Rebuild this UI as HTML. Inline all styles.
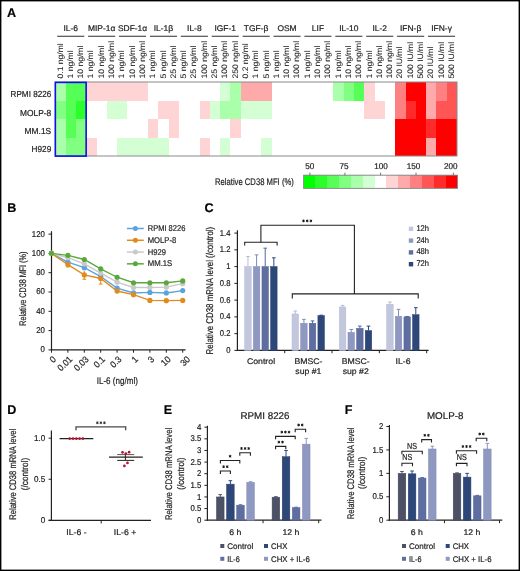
<!DOCTYPE html>
<html><head><meta charset="utf-8"><style>
html,body{margin:0;padding:0;background:#fff;overflow:hidden;}
svg{display:block;will-change:transform;}
text{font-family:"Liberation Sans",sans-serif;text-rendering:geometricPrecision;stroke:#222;stroke-width:0.2px;}
.l{stroke-width:0.05px;}
</style></head><body>
<svg width="520" height="571" viewBox="0 0 520 571" font-family="Liberation Sans, sans-serif" fill="#222">
<rect x="0" y="0" width="520" height="571" fill="#fff"/>
<text x="7.00" y="17.00" font-size="12.6" font-weight="bold" fill="#000">A</text>
<text x="7.30" y="212.20" font-size="12.6" font-weight="bold" fill="#000">B</text>
<text x="204.60" y="212.40" font-size="12.6" font-weight="bold" fill="#000">C</text>
<text x="7.30" y="413.90" font-size="12.6" font-weight="bold" fill="#000">D</text>
<text x="163.80" y="413.90" font-size="12.6" font-weight="bold" fill="#000">E</text>
<text x="344.80" y="413.90" font-size="12.6" font-weight="bold" fill="#000">F</text>
<rect x="55.30" y="82.00" width="10.30" height="18.50" fill="rgb(170,255,170)" shape-rendering="crispEdges"/>
<rect x="65.60" y="82.00" width="20.60" height="18.50" fill="rgb(85,255,85)" shape-rendering="crispEdges"/>
<rect x="86.20" y="82.00" width="61.80" height="18.50" fill="rgb(255,212,212)" shape-rendering="crispEdges"/>
<rect x="220.10" y="82.00" width="10.30" height="18.50" fill="rgb(212,255,212)" shape-rendering="crispEdges"/>
<rect x="230.40" y="82.00" width="10.30" height="18.50" fill="rgb(170,255,170)" shape-rendering="crispEdges"/>
<rect x="240.70" y="82.00" width="30.90" height="18.50" fill="rgb(255,170,170)" shape-rendering="crispEdges"/>
<rect x="333.40" y="82.00" width="10.30" height="18.50" fill="rgb(170,255,170)" shape-rendering="crispEdges"/>
<rect x="343.70" y="82.00" width="10.30" height="18.50" fill="rgb(128,255,128)" shape-rendering="crispEdges"/>
<rect x="354.00" y="82.00" width="10.30" height="18.50" fill="rgb(85,255,85)" shape-rendering="crispEdges"/>
<rect x="364.30" y="82.00" width="10.30" height="18.50" fill="rgb(255,212,212)" shape-rendering="crispEdges"/>
<rect x="395.20" y="82.00" width="10.30" height="18.50" fill="rgb(255,128,128)" shape-rendering="crispEdges"/>
<rect x="405.50" y="82.00" width="20.60" height="18.50" fill="rgb(255,0,0)" shape-rendering="crispEdges"/>
<rect x="426.10" y="82.00" width="10.30" height="18.50" fill="rgb(255,170,170)" shape-rendering="crispEdges"/>
<rect x="436.40" y="82.00" width="10.30" height="18.50" fill="rgb(255,128,128)" shape-rendering="crispEdges"/>
<rect x="446.70" y="82.00" width="10.30" height="18.50" fill="rgb(255,85,85)" shape-rendering="crispEdges"/>
<rect x="55.30" y="100.50" width="10.30" height="18.50" fill="rgb(128,255,128)" shape-rendering="crispEdges"/>
<rect x="65.60" y="100.50" width="10.30" height="18.50" fill="rgb(85,255,85)" shape-rendering="crispEdges"/>
<rect x="75.90" y="100.50" width="10.30" height="18.50" fill="rgb(42,255,42)" shape-rendering="crispEdges"/>
<rect x="106.80" y="100.50" width="20.60" height="18.50" fill="rgb(212,255,212)" shape-rendering="crispEdges"/>
<rect x="158.30" y="100.50" width="20.60" height="18.50" fill="rgb(255,212,212)" shape-rendering="crispEdges"/>
<rect x="199.50" y="100.50" width="10.30" height="18.50" fill="rgb(255,212,212)" shape-rendering="crispEdges"/>
<rect x="209.80" y="100.50" width="10.30" height="18.50" fill="rgb(212,255,212)" shape-rendering="crispEdges"/>
<rect x="220.10" y="100.50" width="20.60" height="18.50" fill="rgb(170,255,170)" shape-rendering="crispEdges"/>
<rect x="240.70" y="100.50" width="30.90" height="18.50" fill="rgb(212,255,212)" shape-rendering="crispEdges"/>
<rect x="364.30" y="100.50" width="20.60" height="18.50" fill="rgb(255,212,212)" shape-rendering="crispEdges"/>
<rect x="395.20" y="100.50" width="10.30" height="18.50" fill="rgb(255,128,128)" shape-rendering="crispEdges"/>
<rect x="405.50" y="100.50" width="10.30" height="18.50" fill="rgb(255,42,42)" shape-rendering="crispEdges"/>
<rect x="415.80" y="100.50" width="10.30" height="18.50" fill="rgb(255,0,0)" shape-rendering="crispEdges"/>
<rect x="426.10" y="100.50" width="10.30" height="18.50" fill="rgb(255,170,170)" shape-rendering="crispEdges"/>
<rect x="436.40" y="100.50" width="20.60" height="18.50" fill="rgb(255,85,85)" shape-rendering="crispEdges"/>
<rect x="55.30" y="119.00" width="10.30" height="18.50" fill="rgb(170,255,170)" shape-rendering="crispEdges"/>
<rect x="65.60" y="119.00" width="10.30" height="18.50" fill="rgb(85,255,85)" shape-rendering="crispEdges"/>
<rect x="75.90" y="119.00" width="10.30" height="18.50" fill="rgb(128,255,128)" shape-rendering="crispEdges"/>
<rect x="148.00" y="119.00" width="10.30" height="18.50" fill="rgb(255,212,212)" shape-rendering="crispEdges"/>
<rect x="168.60" y="119.00" width="10.30" height="18.50" fill="rgb(255,212,212)" shape-rendering="crispEdges"/>
<rect x="230.40" y="119.00" width="10.30" height="18.50" fill="rgb(255,212,212)" shape-rendering="crispEdges"/>
<rect x="395.20" y="119.00" width="30.90" height="18.50" fill="rgb(255,0,0)" shape-rendering="crispEdges"/>
<rect x="426.10" y="119.00" width="10.30" height="18.50" fill="rgb(255,42,42)" shape-rendering="crispEdges"/>
<rect x="436.40" y="119.00" width="20.60" height="18.50" fill="rgb(255,0,0)" shape-rendering="crispEdges"/>
<rect x="55.30" y="137.50" width="10.30" height="18.50" fill="rgb(170,255,170)" shape-rendering="crispEdges"/>
<rect x="65.60" y="137.50" width="20.60" height="18.50" fill="rgb(128,255,128)" shape-rendering="crispEdges"/>
<rect x="86.20" y="137.50" width="10.30" height="18.50" fill="rgb(255,212,212)" shape-rendering="crispEdges"/>
<rect x="117.10" y="137.50" width="51.50" height="18.50" fill="rgb(212,255,212)" shape-rendering="crispEdges"/>
<rect x="199.50" y="137.50" width="10.30" height="18.50" fill="rgb(255,212,212)" shape-rendering="crispEdges"/>
<rect x="220.10" y="137.50" width="10.30" height="18.50" fill="rgb(212,255,212)" shape-rendering="crispEdges"/>
<rect x="261.30" y="137.50" width="10.30" height="18.50" fill="rgb(212,255,212)" shape-rendering="crispEdges"/>
<rect x="395.20" y="137.50" width="30.90" height="18.50" fill="rgb(255,0,0)" shape-rendering="crispEdges"/>
<rect x="426.10" y="137.50" width="10.30" height="18.50" fill="rgb(255,170,170)" shape-rendering="crispEdges"/>
<rect x="436.40" y="137.50" width="20.60" height="18.50" fill="rgb(255,0,0)" shape-rendering="crispEdges"/>
<rect x="55.30" y="82.00" width="401.70" height="74.00" fill="none" stroke="#8a8a8a" stroke-width="1"/>
<rect x="55.35" y="82.40" width="30.80" height="73.70" fill="none" stroke="#1010f0" stroke-width="1.6"/>
<text x="51.20" y="97.20" font-size="8.7" text-anchor="end" textLength="40.60" lengthAdjust="spacingAndGlyphs">RPMI 8226</text>
<text x="51.20" y="115.50" font-size="8.7" text-anchor="end" textLength="31.20" lengthAdjust="spacingAndGlyphs">MOLP-8</text>
<text x="51.20" y="134.00" font-size="8.7" text-anchor="end" textLength="26.60" lengthAdjust="spacingAndGlyphs">MM.1S</text>
<text x="51.20" y="152.30" font-size="8.7" text-anchor="end" textLength="19.60" lengthAdjust="spacingAndGlyphs">H929</text>
<text x="70.75" y="30.70" font-size="8.2" text-anchor="middle" textLength="14.55" lengthAdjust="spacingAndGlyphs">IL-6</text>
<line x1="57.20" y1="36.30" x2="84.30" y2="36.30" stroke="#505050" stroke-width="1.2"/>
<text x="62.55" y="78.50" font-size="8.0" class="l" textLength="35.21" lengthAdjust="spacingAndGlyphs" transform="rotate(-90 62.55 78.50)">0.1 ng/ml</text>
<text x="72.85" y="78.50" font-size="8.0" class="l" textLength="28.07" lengthAdjust="spacingAndGlyphs" transform="rotate(-90 72.85 78.50)">1 ng/ml</text>
<text x="83.15" y="78.50" font-size="8.0" class="l" textLength="32.83" lengthAdjust="spacingAndGlyphs" transform="rotate(-90 83.15 78.50)">10 ng/ml</text>
<text x="101.65" y="30.70" font-size="8.2" text-anchor="middle" textLength="27.41" lengthAdjust="spacingAndGlyphs">MIP-1α</text>
<line x1="88.10" y1="36.30" x2="115.20" y2="36.30" stroke="#505050" stroke-width="1.2"/>
<text x="93.45" y="78.50" font-size="8.0" class="l" textLength="28.07" lengthAdjust="spacingAndGlyphs" transform="rotate(-90 93.45 78.50)">1 ng/ml</text>
<text x="103.75" y="78.50" font-size="8.0" class="l" textLength="32.83" lengthAdjust="spacingAndGlyphs" transform="rotate(-90 103.75 78.50)">10 ng/ml</text>
<text x="114.05" y="78.50" font-size="8.0" class="l" textLength="37.59" lengthAdjust="spacingAndGlyphs" transform="rotate(-90 114.05 78.50)">100 ng/ml</text>
<text x="132.55" y="30.70" font-size="8.2" text-anchor="middle" textLength="29.28" lengthAdjust="spacingAndGlyphs">SDF-1α</text>
<line x1="119.00" y1="36.30" x2="146.10" y2="36.30" stroke="#505050" stroke-width="1.2"/>
<text x="124.35" y="78.50" font-size="8.0" class="l" textLength="28.07" lengthAdjust="spacingAndGlyphs" transform="rotate(-90 124.35 78.50)">1 ng/ml</text>
<text x="134.65" y="78.50" font-size="8.0" class="l" textLength="32.83" lengthAdjust="spacingAndGlyphs" transform="rotate(-90 134.65 78.50)">10 ng/ml</text>
<text x="144.95" y="78.50" font-size="8.0" class="l" textLength="37.59" lengthAdjust="spacingAndGlyphs" transform="rotate(-90 144.95 78.50)">100 ng/ml</text>
<text x="163.45" y="30.70" font-size="8.2" text-anchor="middle" textLength="19.41" lengthAdjust="spacingAndGlyphs">IL-1β</text>
<line x1="149.90" y1="36.30" x2="177.00" y2="36.30" stroke="#505050" stroke-width="1.2"/>
<text x="155.25" y="78.50" font-size="8.0" class="l" textLength="28.07" lengthAdjust="spacingAndGlyphs" transform="rotate(-90 155.25 78.50)">1 ng/ml</text>
<text x="165.55" y="78.50" font-size="8.0" class="l" textLength="28.07" lengthAdjust="spacingAndGlyphs" transform="rotate(-90 165.55 78.50)">5 ng/ml</text>
<text x="175.85" y="78.50" font-size="8.0" class="l" textLength="32.83" lengthAdjust="spacingAndGlyphs" transform="rotate(-90 175.85 78.50)">25 ng/ml</text>
<text x="194.35" y="30.70" font-size="8.2" text-anchor="middle" textLength="14.55" lengthAdjust="spacingAndGlyphs">IL-8</text>
<line x1="180.80" y1="36.30" x2="207.90" y2="36.30" stroke="#505050" stroke-width="1.2"/>
<text x="186.15" y="78.50" font-size="8.0" class="l" textLength="28.07" lengthAdjust="spacingAndGlyphs" transform="rotate(-90 186.15 78.50)">5 ng/ml</text>
<text x="196.45" y="78.50" font-size="8.0" class="l" textLength="32.83" lengthAdjust="spacingAndGlyphs" transform="rotate(-90 196.45 78.50)">25 ng/ml</text>
<text x="206.75" y="78.50" font-size="8.0" class="l" textLength="37.59" lengthAdjust="spacingAndGlyphs" transform="rotate(-90 206.75 78.50)">100 ng/ml</text>
<text x="225.25" y="30.70" font-size="8.2" text-anchor="middle" textLength="21.58" lengthAdjust="spacingAndGlyphs">IGF-1</text>
<line x1="211.70" y1="36.30" x2="238.80" y2="36.30" stroke="#505050" stroke-width="1.2"/>
<text x="217.05" y="78.50" font-size="8.0" class="l" textLength="32.83" lengthAdjust="spacingAndGlyphs" transform="rotate(-90 217.05 78.50)">25 ng/ml</text>
<text x="227.35" y="78.50" font-size="8.0" class="l" textLength="37.59" lengthAdjust="spacingAndGlyphs" transform="rotate(-90 227.35 78.50)">100 ng/ml</text>
<text x="237.65" y="78.50" font-size="8.0" class="l" textLength="37.59" lengthAdjust="spacingAndGlyphs" transform="rotate(-90 237.65 78.50)">250 ng/ml</text>
<text x="256.15" y="30.70" font-size="8.2" text-anchor="middle" textLength="24.56" lengthAdjust="spacingAndGlyphs">TGF-β</text>
<line x1="242.60" y1="36.30" x2="269.70" y2="36.30" stroke="#505050" stroke-width="1.2"/>
<text x="247.95" y="78.50" font-size="8.0" class="l" textLength="35.21" lengthAdjust="spacingAndGlyphs" transform="rotate(-90 247.95 78.50)">0.2 ng/ml</text>
<text x="258.25" y="78.50" font-size="8.0" class="l" textLength="28.07" lengthAdjust="spacingAndGlyphs" transform="rotate(-90 258.25 78.50)">1 ng/ml</text>
<text x="268.55" y="78.50" font-size="8.0" class="l" textLength="28.07" lengthAdjust="spacingAndGlyphs" transform="rotate(-90 268.55 78.50)">5 ng/ml</text>
<text x="287.05" y="30.70" font-size="8.2" text-anchor="middle" textLength="19.24" lengthAdjust="spacingAndGlyphs">OSM</text>
<line x1="273.50" y1="36.30" x2="300.60" y2="36.30" stroke="#505050" stroke-width="1.2"/>
<text x="278.85" y="78.50" font-size="8.0" class="l" textLength="28.07" lengthAdjust="spacingAndGlyphs" transform="rotate(-90 278.85 78.50)">1 ng/ml</text>
<text x="289.15" y="78.50" font-size="8.0" class="l" textLength="32.83" lengthAdjust="spacingAndGlyphs" transform="rotate(-90 289.15 78.50)">10 ng/ml</text>
<text x="299.45" y="78.50" font-size="8.0" class="l" textLength="37.59" lengthAdjust="spacingAndGlyphs" transform="rotate(-90 299.45 78.50)">100 ng/ml</text>
<text x="317.95" y="30.70" font-size="8.2" text-anchor="middle" textLength="12.20" lengthAdjust="spacingAndGlyphs">LIF</text>
<line x1="304.40" y1="36.30" x2="331.50" y2="36.30" stroke="#505050" stroke-width="1.2"/>
<text x="309.75" y="78.50" font-size="8.0" class="l" textLength="28.07" lengthAdjust="spacingAndGlyphs" transform="rotate(-90 309.75 78.50)">1 ng/ml</text>
<text x="320.05" y="78.50" font-size="8.0" class="l" textLength="32.83" lengthAdjust="spacingAndGlyphs" transform="rotate(-90 320.05 78.50)">10 ng/ml</text>
<text x="330.35" y="78.50" font-size="8.0" class="l" textLength="37.59" lengthAdjust="spacingAndGlyphs" transform="rotate(-90 330.35 78.50)">100 ng/ml</text>
<text x="348.85" y="30.70" font-size="8.2" text-anchor="middle" textLength="19.25" lengthAdjust="spacingAndGlyphs">IL-10</text>
<line x1="335.30" y1="36.30" x2="362.40" y2="36.30" stroke="#505050" stroke-width="1.2"/>
<text x="340.65" y="78.50" font-size="8.0" class="l" textLength="28.07" lengthAdjust="spacingAndGlyphs" transform="rotate(-90 340.65 78.50)">1 ng/ml</text>
<text x="350.95" y="78.50" font-size="8.0" class="l" textLength="32.83" lengthAdjust="spacingAndGlyphs" transform="rotate(-90 350.95 78.50)">10 ng/ml</text>
<text x="361.25" y="78.50" font-size="8.0" class="l" textLength="37.59" lengthAdjust="spacingAndGlyphs" transform="rotate(-90 361.25 78.50)">100 ng/ml</text>
<text x="379.75" y="30.70" font-size="8.2" text-anchor="middle" textLength="14.55" lengthAdjust="spacingAndGlyphs">IL-2</text>
<line x1="366.20" y1="36.30" x2="393.30" y2="36.30" stroke="#505050" stroke-width="1.2"/>
<text x="371.55" y="78.50" font-size="8.0" class="l" textLength="28.07" lengthAdjust="spacingAndGlyphs" transform="rotate(-90 371.55 78.50)">1 ng/ml</text>
<text x="381.85" y="78.50" font-size="8.0" class="l" textLength="32.83" lengthAdjust="spacingAndGlyphs" transform="rotate(-90 381.85 78.50)">10 ng/ml</text>
<text x="392.15" y="78.50" font-size="8.0" class="l" textLength="37.59" lengthAdjust="spacingAndGlyphs" transform="rotate(-90 392.15 78.50)">100 ng/ml</text>
<text x="410.65" y="30.70" font-size="8.2" text-anchor="middle" textLength="21.27" lengthAdjust="spacingAndGlyphs">IFN-β</text>
<line x1="397.10" y1="36.30" x2="424.20" y2="36.30" stroke="#505050" stroke-width="1.2"/>
<text x="402.45" y="78.50" font-size="8.0" class="l" textLength="31.87" lengthAdjust="spacingAndGlyphs" transform="rotate(-90 402.45 78.50)">20 IU/ml</text>
<text x="412.75" y="78.50" font-size="8.0" class="l" textLength="36.63" lengthAdjust="spacingAndGlyphs" transform="rotate(-90 412.75 78.50)">100 IU/ml</text>
<text x="423.05" y="78.50" font-size="8.0" class="l" textLength="36.63" lengthAdjust="spacingAndGlyphs" transform="rotate(-90 423.05 78.50)">500 IU/ml</text>
<text x="441.55" y="30.70" font-size="8.2" text-anchor="middle" textLength="20.64" lengthAdjust="spacingAndGlyphs">IFN-γ</text>
<line x1="428.00" y1="36.30" x2="455.10" y2="36.30" stroke="#505050" stroke-width="1.2"/>
<text x="433.35" y="78.50" font-size="8.0" class="l" textLength="31.87" lengthAdjust="spacingAndGlyphs" transform="rotate(-90 433.35 78.50)">20 IU/ml</text>
<text x="443.65" y="78.50" font-size="8.0" class="l" textLength="36.63" lengthAdjust="spacingAndGlyphs" transform="rotate(-90 443.65 78.50)">100 IU/ml</text>
<text x="453.95" y="78.50" font-size="8.0" class="l" textLength="36.63" lengthAdjust="spacingAndGlyphs" transform="rotate(-90 453.95 78.50)">500 IU/ml</text>
<rect x="303.60" y="175.20" width="11.84" height="13.20" fill="rgb(0,255,0)" shape-rendering="crispEdges"/>
<rect x="315.44" y="175.20" width="11.84" height="13.20" fill="rgb(42,255,42)" shape-rendering="crispEdges"/>
<rect x="327.28" y="175.20" width="11.84" height="13.20" fill="rgb(85,255,85)" shape-rendering="crispEdges"/>
<rect x="339.12" y="175.20" width="11.84" height="13.20" fill="rgb(128,255,128)" shape-rendering="crispEdges"/>
<rect x="350.95" y="175.20" width="11.84" height="13.20" fill="rgb(170,255,170)" shape-rendering="crispEdges"/>
<rect x="362.79" y="175.20" width="11.84" height="13.20" fill="rgb(212,255,212)" shape-rendering="crispEdges"/>
<rect x="374.63" y="175.20" width="11.84" height="13.20" fill="#ffffff" shape-rendering="crispEdges"/>
<rect x="386.47" y="175.20" width="11.84" height="13.20" fill="rgb(255,212,212)" shape-rendering="crispEdges"/>
<rect x="398.31" y="175.20" width="11.84" height="13.20" fill="rgb(255,170,170)" shape-rendering="crispEdges"/>
<rect x="410.15" y="175.20" width="11.84" height="13.20" fill="rgb(255,128,128)" shape-rendering="crispEdges"/>
<rect x="421.98" y="175.20" width="11.84" height="13.20" fill="rgb(255,85,85)" shape-rendering="crispEdges"/>
<rect x="433.82" y="175.20" width="11.84" height="13.20" fill="rgb(255,42,42)" shape-rendering="crispEdges"/>
<rect x="445.66" y="175.20" width="11.84" height="13.20" fill="rgb(255,0,0)" shape-rendering="crispEdges"/>
<rect x="303.60" y="175.20" width="153.90" height="13.20" fill="none" stroke="#8a8a8a" stroke-width="1"/>
<line x1="309.90" y1="172.60" x2="309.90" y2="175.20" stroke="#555" stroke-width="0.8"/>
<text x="309.80" y="169.20" font-size="8.4" text-anchor="middle" textLength="9.06" lengthAdjust="spacingAndGlyphs">50</text>
<line x1="344.90" y1="172.60" x2="344.90" y2="175.20" stroke="#555" stroke-width="0.8"/>
<text x="344.10" y="169.20" font-size="8.4" text-anchor="middle" textLength="9.06" lengthAdjust="spacingAndGlyphs">75</text>
<line x1="380.60" y1="172.60" x2="380.60" y2="175.20" stroke="#555" stroke-width="0.8"/>
<text x="381.00" y="169.20" font-size="8.4" text-anchor="middle" textLength="13.59" lengthAdjust="spacingAndGlyphs">100</text>
<line x1="416.00" y1="172.60" x2="416.00" y2="175.20" stroke="#555" stroke-width="0.8"/>
<text x="413.60" y="169.20" font-size="8.4" text-anchor="middle" textLength="13.59" lengthAdjust="spacingAndGlyphs">150</text>
<line x1="453.40" y1="172.60" x2="453.40" y2="175.20" stroke="#555" stroke-width="0.8"/>
<text x="450.70" y="169.20" font-size="8.4" text-anchor="middle" textLength="13.59" lengthAdjust="spacingAndGlyphs">200</text>
<text x="215.00" y="185.00" font-size="9.6" textLength="78.80" lengthAdjust="spacingAndGlyphs">Relative CD38 MFI (%)</text>
<line x1="51.50" y1="231.20" x2="51.50" y2="350.40" stroke="#222" stroke-width="1.2"/>
<line x1="50.90" y1="349.90" x2="185.60" y2="349.90" stroke="#222" stroke-width="1.2"/>
<line x1="48.50" y1="349.90" x2="51.50" y2="349.90" stroke="#222" stroke-width="1"/>
<text x="44.90" y="352.35" font-size="8.5" text-anchor="end" textLength="4.35" lengthAdjust="spacingAndGlyphs">0</text>
<line x1="48.50" y1="330.60" x2="51.50" y2="330.60" stroke="#222" stroke-width="1"/>
<text x="44.90" y="333.05" font-size="8.5" text-anchor="end" textLength="8.70" lengthAdjust="spacingAndGlyphs">20</text>
<line x1="48.50" y1="311.30" x2="51.50" y2="311.30" stroke="#222" stroke-width="1"/>
<text x="44.90" y="313.75" font-size="8.5" text-anchor="end" textLength="8.70" lengthAdjust="spacingAndGlyphs">40</text>
<line x1="48.50" y1="292.00" x2="51.50" y2="292.00" stroke="#222" stroke-width="1"/>
<text x="44.90" y="294.45" font-size="8.5" text-anchor="end" textLength="8.70" lengthAdjust="spacingAndGlyphs">60</text>
<line x1="48.50" y1="272.70" x2="51.50" y2="272.70" stroke="#222" stroke-width="1"/>
<text x="44.90" y="275.15" font-size="8.5" text-anchor="end" textLength="8.70" lengthAdjust="spacingAndGlyphs">80</text>
<line x1="48.50" y1="253.40" x2="51.50" y2="253.40" stroke="#222" stroke-width="1"/>
<text x="44.90" y="255.85" font-size="8.5" text-anchor="end" textLength="13.05" lengthAdjust="spacingAndGlyphs">100</text>
<line x1="48.50" y1="234.10" x2="51.50" y2="234.10" stroke="#222" stroke-width="1"/>
<text x="44.90" y="236.55" font-size="8.5" text-anchor="end" textLength="13.05" lengthAdjust="spacingAndGlyphs">120</text>
<line x1="51.50" y1="349.90" x2="51.50" y2="352.70" stroke="#222" stroke-width="1"/>
<text x="56.50" y="359.80" font-size="9.0" text-anchor="end" textLength="4.75" lengthAdjust="spacingAndGlyphs" transform="rotate(-45 56.50 359.80)">0</text>
<line x1="67.90" y1="349.90" x2="67.90" y2="352.70" stroke="#222" stroke-width="1"/>
<text x="72.90" y="359.80" font-size="9.0" text-anchor="end" textLength="16.64" lengthAdjust="spacingAndGlyphs" transform="rotate(-45 72.90 359.80)">0.01</text>
<line x1="84.30" y1="349.90" x2="84.30" y2="352.70" stroke="#222" stroke-width="1"/>
<text x="89.30" y="359.80" font-size="9.0" text-anchor="end" textLength="16.64" lengthAdjust="spacingAndGlyphs" transform="rotate(-45 89.30 359.80)">0.03</text>
<line x1="100.70" y1="349.90" x2="100.70" y2="352.70" stroke="#222" stroke-width="1"/>
<text x="105.70" y="359.80" font-size="9.0" text-anchor="end" textLength="11.88" lengthAdjust="spacingAndGlyphs" transform="rotate(-45 105.70 359.80)">0.1</text>
<line x1="117.10" y1="349.90" x2="117.10" y2="352.70" stroke="#222" stroke-width="1"/>
<text x="122.10" y="359.80" font-size="9.0" text-anchor="end" textLength="11.88" lengthAdjust="spacingAndGlyphs" transform="rotate(-45 122.10 359.80)">0.3</text>
<line x1="133.50" y1="349.90" x2="133.50" y2="352.70" stroke="#222" stroke-width="1"/>
<text x="138.50" y="359.80" font-size="9.0" text-anchor="end" textLength="4.75" lengthAdjust="spacingAndGlyphs" transform="rotate(-45 138.50 359.80)">1</text>
<line x1="149.90" y1="349.90" x2="149.90" y2="352.70" stroke="#222" stroke-width="1"/>
<text x="154.90" y="359.80" font-size="9.0" text-anchor="end" textLength="4.75" lengthAdjust="spacingAndGlyphs" transform="rotate(-45 154.90 359.80)">3</text>
<line x1="166.30" y1="349.90" x2="166.30" y2="352.70" stroke="#222" stroke-width="1"/>
<text x="171.30" y="359.80" font-size="9.0" text-anchor="end" textLength="9.51" lengthAdjust="spacingAndGlyphs" transform="rotate(-45 171.30 359.80)">10</text>
<line x1="182.70" y1="349.90" x2="182.70" y2="352.70" stroke="#222" stroke-width="1"/>
<text x="190.70" y="359.80" font-size="9.0" text-anchor="end" textLength="9.51" lengthAdjust="spacingAndGlyphs" transform="rotate(-45 190.70 359.80)">30</text>
<text x="117.30" y="384.40" font-size="9.6" text-anchor="middle" textLength="41.20" lengthAdjust="spacingAndGlyphs">IL-6 (ng/ml)</text>
<text x="25.60" y="288.70" font-size="9.6" text-anchor="middle" textLength="74.00" lengthAdjust="spacingAndGlyphs" transform="rotate(-90 25.60 288.70)">Relative CD38 MFI (%)</text>
<line x1="67.90" y1="262.57" x2="67.90" y2="266.91" stroke="#e08b1b" stroke-width="1"/>
<line x1="66.10" y1="266.91" x2="69.70" y2="266.91" stroke="#e08b1b" stroke-width="1"/>
<line x1="84.30" y1="270.77" x2="84.30" y2="279.26" stroke="#e08b1b" stroke-width="1"/>
<line x1="82.50" y1="279.26" x2="86.10" y2="279.26" stroke="#e08b1b" stroke-width="1"/>
<line x1="100.70" y1="273.66" x2="100.70" y2="284.09" stroke="#e08b1b" stroke-width="1"/>
<line x1="98.90" y1="284.09" x2="102.50" y2="284.09" stroke="#e08b1b" stroke-width="1"/>
<polyline points="51.50,253.40 67.90,262.08 84.30,267.68 100.70,276.56 117.10,288.14 133.50,292.96 149.90,292.39 166.30,292.96 182.70,290.55" stroke="#5ba3dd" stroke-width="1.35" fill="none"/>
<polyline points="51.50,253.40 67.90,264.59 84.30,274.92 100.70,278.49 117.10,291.03 133.50,294.70 149.90,300.40 166.30,300.69 182.70,300.40" stroke="#e08b1b" stroke-width="1.35" fill="none"/>
<polyline points="51.50,253.40 67.90,257.74 84.30,263.82 100.70,273.09 117.10,282.16 133.50,287.46 149.90,287.46 166.30,287.17 182.70,283.70" stroke="#c9c9cc" stroke-width="1.35" fill="none"/>
<polyline points="51.50,253.40 67.90,255.33 84.30,259.48 100.70,268.84 117.10,277.24 133.50,282.74 149.90,282.74 166.30,282.74 182.70,280.90" stroke="#5aa83b" stroke-width="1.35" fill="none"/>
<circle cx="51.50" cy="253.40" r="2.6" fill="#5ba3dd"/>
<circle cx="67.90" cy="262.08" r="2.6" fill="#5ba3dd"/>
<circle cx="84.30" cy="267.68" r="2.6" fill="#5ba3dd"/>
<circle cx="100.70" cy="276.56" r="2.6" fill="#5ba3dd"/>
<circle cx="117.10" cy="288.14" r="2.6" fill="#5ba3dd"/>
<circle cx="133.50" cy="292.96" r="2.6" fill="#5ba3dd"/>
<circle cx="149.90" cy="292.39" r="2.6" fill="#5ba3dd"/>
<circle cx="166.30" cy="292.96" r="2.6" fill="#5ba3dd"/>
<circle cx="182.70" cy="290.55" r="2.6" fill="#5ba3dd"/>
<circle cx="51.50" cy="253.40" r="2.6" fill="#e08b1b"/>
<circle cx="67.90" cy="264.59" r="2.6" fill="#e08b1b"/>
<circle cx="84.30" cy="274.92" r="2.6" fill="#e08b1b"/>
<circle cx="100.70" cy="278.49" r="2.6" fill="#e08b1b"/>
<circle cx="117.10" cy="291.03" r="2.6" fill="#e08b1b"/>
<circle cx="133.50" cy="294.70" r="2.6" fill="#e08b1b"/>
<circle cx="149.90" cy="300.40" r="2.6" fill="#e08b1b"/>
<circle cx="166.30" cy="300.69" r="2.6" fill="#e08b1b"/>
<circle cx="182.70" cy="300.40" r="2.6" fill="#e08b1b"/>
<circle cx="51.50" cy="253.40" r="2.6" fill="#c9c9cc"/>
<circle cx="67.90" cy="257.74" r="2.6" fill="#c9c9cc"/>
<circle cx="84.30" cy="263.82" r="2.6" fill="#c9c9cc"/>
<circle cx="100.70" cy="273.09" r="2.6" fill="#c9c9cc"/>
<circle cx="117.10" cy="282.16" r="2.6" fill="#c9c9cc"/>
<circle cx="133.50" cy="287.46" r="2.6" fill="#c9c9cc"/>
<circle cx="149.90" cy="287.46" r="2.6" fill="#c9c9cc"/>
<circle cx="166.30" cy="287.17" r="2.6" fill="#c9c9cc"/>
<circle cx="182.70" cy="283.70" r="2.6" fill="#c9c9cc"/>
<circle cx="51.50" cy="253.40" r="2.6" fill="#5aa83b"/>
<circle cx="67.90" cy="255.33" r="2.6" fill="#5aa83b"/>
<circle cx="84.30" cy="259.48" r="2.6" fill="#5aa83b"/>
<circle cx="100.70" cy="268.84" r="2.6" fill="#5aa83b"/>
<circle cx="117.10" cy="277.24" r="2.6" fill="#5aa83b"/>
<circle cx="133.50" cy="282.74" r="2.6" fill="#5aa83b"/>
<circle cx="149.90" cy="282.74" r="2.6" fill="#5aa83b"/>
<circle cx="166.30" cy="282.74" r="2.6" fill="#5aa83b"/>
<circle cx="182.70" cy="280.90" r="2.6" fill="#5aa83b"/>
<line x1="126.90" y1="228.50" x2="143.80" y2="228.50" stroke="#5ba3dd" stroke-width="1.5"/>
<circle cx="135.4" cy="228.50" r="2.5" fill="#5ba3dd"/>
<text x="147.70" y="231.10" font-size="8.4" textLength="37.70" lengthAdjust="spacingAndGlyphs">RPMI 8226</text>
<line x1="126.90" y1="240.28" x2="143.80" y2="240.28" stroke="#e08b1b" stroke-width="1.5"/>
<circle cx="135.4" cy="240.28" r="2.5" fill="#e08b1b"/>
<text x="147.70" y="242.88" font-size="8.4" textLength="28.50" lengthAdjust="spacingAndGlyphs">MOLP-8</text>
<line x1="126.90" y1="252.06" x2="143.80" y2="252.06" stroke="#c9c9cc" stroke-width="1.5"/>
<circle cx="135.4" cy="252.06" r="2.5" fill="#c9c9cc"/>
<text x="147.70" y="254.66" font-size="8.4" textLength="18.20" lengthAdjust="spacingAndGlyphs">H929</text>
<line x1="126.90" y1="263.84" x2="143.80" y2="263.84" stroke="#5aa83b" stroke-width="1.5"/>
<circle cx="135.4" cy="263.84" r="2.5" fill="#5aa83b"/>
<text x="147.70" y="266.44" font-size="8.4" textLength="24.60" lengthAdjust="spacingAndGlyphs">MM.1S</text>
<line x1="237.40" y1="230.20" x2="237.40" y2="350.90" stroke="#222" stroke-width="1.2"/>
<line x1="236.80" y1="350.40" x2="428.60" y2="350.40" stroke="#222" stroke-width="1.2"/>
<line x1="234.40" y1="350.40" x2="237.40" y2="350.40" stroke="#222" stroke-width="1"/>
<text x="230.40" y="353.00" font-size="8.5" text-anchor="end" textLength="4.25" lengthAdjust="spacingAndGlyphs">0</text>
<line x1="234.40" y1="333.64" x2="237.40" y2="333.64" stroke="#222" stroke-width="1"/>
<text x="230.40" y="336.24" font-size="8.5" text-anchor="end" textLength="10.63" lengthAdjust="spacingAndGlyphs">0.2</text>
<line x1="234.40" y1="316.88" x2="237.40" y2="316.88" stroke="#222" stroke-width="1"/>
<text x="230.40" y="319.48" font-size="8.5" text-anchor="end" textLength="10.63" lengthAdjust="spacingAndGlyphs">0.4</text>
<line x1="234.40" y1="300.12" x2="237.40" y2="300.12" stroke="#222" stroke-width="1"/>
<text x="230.40" y="302.72" font-size="8.5" text-anchor="end" textLength="10.63" lengthAdjust="spacingAndGlyphs">0.6</text>
<line x1="234.40" y1="283.36" x2="237.40" y2="283.36" stroke="#222" stroke-width="1"/>
<text x="230.40" y="285.96" font-size="8.5" text-anchor="end" textLength="10.63" lengthAdjust="spacingAndGlyphs">0.8</text>
<line x1="234.40" y1="266.60" x2="237.40" y2="266.60" stroke="#222" stroke-width="1"/>
<text x="230.40" y="269.20" font-size="8.5" text-anchor="end" textLength="4.25" lengthAdjust="spacingAndGlyphs">1</text>
<line x1="234.40" y1="249.84" x2="237.40" y2="249.84" stroke="#222" stroke-width="1"/>
<text x="230.40" y="252.44" font-size="8.5" text-anchor="end" textLength="10.63" lengthAdjust="spacingAndGlyphs">1.2</text>
<line x1="234.40" y1="233.08" x2="237.40" y2="233.08" stroke="#222" stroke-width="1"/>
<text x="230.40" y="235.68" font-size="8.5" text-anchor="end" textLength="10.63" lengthAdjust="spacingAndGlyphs">1.4</text>
<line x1="284.72" y1="350.40" x2="284.72" y2="353.20" stroke="#222" stroke-width="1"/>
<line x1="332.04" y1="350.40" x2="332.04" y2="353.20" stroke="#222" stroke-width="1"/>
<line x1="379.36" y1="350.40" x2="379.36" y2="353.20" stroke="#222" stroke-width="1"/>
<line x1="426.68" y1="350.40" x2="426.68" y2="353.20" stroke="#222" stroke-width="1"/>
<line x1="247.96" y1="256.54" x2="247.96" y2="266.60" stroke="#b5bbd6" stroke-width="1"/>
<line x1="246.16" y1="256.54" x2="249.76" y2="256.54" stroke="#b5bbd6" stroke-width="1"/>
<rect x="244.71" y="266.60" width="6.50" height="83.80" fill="#c2c7dd" stroke="#b3b9d2" stroke-width="0.5"/>
<line x1="256.59" y1="254.87" x2="256.59" y2="266.60" stroke="#7f8ab7" stroke-width="1"/>
<line x1="254.79" y1="254.87" x2="258.39" y2="254.87" stroke="#7f8ab7" stroke-width="1"/>
<rect x="253.34" y="266.60" width="6.50" height="83.80" fill="#8e98c0" stroke="#808bb5" stroke-width="0.5"/>
<line x1="265.22" y1="248.16" x2="265.22" y2="266.60" stroke="#55669a" stroke-width="1"/>
<line x1="263.42" y1="248.16" x2="267.02" y2="248.16" stroke="#55669a" stroke-width="1"/>
<rect x="261.97" y="266.60" width="6.50" height="83.80" fill="#5e6ea0" stroke="#536293" stroke-width="0.5"/>
<line x1="273.85" y1="257.80" x2="273.85" y2="266.60" stroke="#2d4779" stroke-width="1"/>
<line x1="272.05" y1="257.80" x2="275.65" y2="257.80" stroke="#2d4779" stroke-width="1"/>
<rect x="270.60" y="266.60" width="6.50" height="83.80" fill="#2d4779" stroke="#253d6c" stroke-width="0.5"/>
<line x1="295.28" y1="311.01" x2="295.28" y2="313.95" stroke="#b5bbd6" stroke-width="1"/>
<line x1="293.48" y1="311.01" x2="297.08" y2="311.01" stroke="#b5bbd6" stroke-width="1"/>
<rect x="292.03" y="313.95" width="6.50" height="36.45" fill="#c2c7dd" stroke="#b3b9d2" stroke-width="0.5"/>
<line x1="303.91" y1="319.39" x2="303.91" y2="323.25" stroke="#7f8ab7" stroke-width="1"/>
<line x1="302.11" y1="319.39" x2="305.71" y2="319.39" stroke="#7f8ab7" stroke-width="1"/>
<rect x="300.66" y="323.25" width="6.50" height="27.15" fill="#8e98c0" stroke="#808bb5" stroke-width="0.5"/>
<line x1="312.54" y1="320.90" x2="312.54" y2="323.25" stroke="#55669a" stroke-width="1"/>
<line x1="310.74" y1="320.90" x2="314.34" y2="320.90" stroke="#55669a" stroke-width="1"/>
<rect x="309.29" y="323.25" width="6.50" height="27.15" fill="#5e6ea0" stroke="#536293" stroke-width="0.5"/>
<line x1="321.17" y1="315.20" x2="321.17" y2="315.62" stroke="#2d4779" stroke-width="1"/>
<line x1="319.37" y1="315.20" x2="322.97" y2="315.20" stroke="#2d4779" stroke-width="1"/>
<rect x="317.92" y="315.62" width="6.50" height="34.78" fill="#2d4779" stroke="#253d6c" stroke-width="0.5"/>
<line x1="342.60" y1="305.40" x2="342.60" y2="306.99" stroke="#b5bbd6" stroke-width="1"/>
<line x1="340.80" y1="305.40" x2="344.40" y2="305.40" stroke="#b5bbd6" stroke-width="1"/>
<rect x="339.35" y="306.99" width="6.50" height="43.41" fill="#c2c7dd" stroke="#b3b9d2" stroke-width="0.5"/>
<line x1="351.23" y1="329.45" x2="351.23" y2="332.38" stroke="#7f8ab7" stroke-width="1"/>
<line x1="349.43" y1="329.45" x2="353.03" y2="329.45" stroke="#7f8ab7" stroke-width="1"/>
<rect x="347.98" y="332.38" width="6.50" height="18.02" fill="#8e98c0" stroke="#808bb5" stroke-width="0.5"/>
<line x1="359.86" y1="326.10" x2="359.86" y2="328.28" stroke="#55669a" stroke-width="1"/>
<line x1="358.06" y1="326.10" x2="361.66" y2="326.10" stroke="#55669a" stroke-width="1"/>
<rect x="356.61" y="328.28" width="6.50" height="22.12" fill="#5e6ea0" stroke="#536293" stroke-width="0.5"/>
<line x1="368.49" y1="326.10" x2="368.49" y2="330.54" stroke="#2d4779" stroke-width="1"/>
<line x1="366.69" y1="326.10" x2="370.29" y2="326.10" stroke="#2d4779" stroke-width="1"/>
<rect x="365.24" y="330.54" width="6.50" height="19.86" fill="#2d4779" stroke="#253d6c" stroke-width="0.5"/>
<line x1="389.92" y1="302.05" x2="389.92" y2="304.31" stroke="#b5bbd6" stroke-width="1"/>
<line x1="388.12" y1="302.05" x2="391.72" y2="302.05" stroke="#b5bbd6" stroke-width="1"/>
<rect x="386.67" y="304.31" width="6.50" height="46.09" fill="#c2c7dd" stroke="#b3b9d2" stroke-width="0.5"/>
<line x1="398.55" y1="309.34" x2="398.55" y2="316.29" stroke="#7f8ab7" stroke-width="1"/>
<line x1="396.75" y1="309.34" x2="400.35" y2="309.34" stroke="#7f8ab7" stroke-width="1"/>
<rect x="395.30" y="316.29" width="6.50" height="34.11" fill="#8e98c0" stroke="#808bb5" stroke-width="0.5"/>
<line x1="407.18" y1="316.46" x2="407.18" y2="316.88" stroke="#55669a" stroke-width="1"/>
<line x1="405.38" y1="316.46" x2="408.98" y2="316.46" stroke="#55669a" stroke-width="1"/>
<rect x="403.93" y="316.88" width="6.50" height="33.52" fill="#5e6ea0" stroke="#536293" stroke-width="0.5"/>
<line x1="415.81" y1="307.66" x2="415.81" y2="314.70" stroke="#2d4779" stroke-width="1"/>
<line x1="414.01" y1="307.66" x2="417.61" y2="307.66" stroke="#2d4779" stroke-width="1"/>
<rect x="412.56" y="314.70" width="6.50" height="35.70" fill="#2d4779" stroke="#253d6c" stroke-width="0.5"/>
<text x="261.00" y="363.60" font-size="8.2" text-anchor="middle" textLength="28.20" lengthAdjust="spacingAndGlyphs">Control</text>
<text x="308.38" y="363.60" font-size="8.2" text-anchor="middle" textLength="28.01" lengthAdjust="spacingAndGlyphs">BMSC-</text>
<text x="308.38" y="373.60" font-size="8.2" text-anchor="middle" textLength="26.10" lengthAdjust="spacingAndGlyphs">sup #1</text>
<text x="355.70" y="363.60" font-size="8.2" text-anchor="middle" textLength="28.01" lengthAdjust="spacingAndGlyphs">BMSC-</text>
<text x="355.70" y="373.60" font-size="8.2" text-anchor="middle" textLength="26.10" lengthAdjust="spacingAndGlyphs">sup #2</text>
<text x="403.02" y="363.60" font-size="8.2" text-anchor="middle" textLength="14.98" lengthAdjust="spacingAndGlyphs">IL-6</text>
<text x="213.00" y="290.60" font-size="9.8" text-anchor="middle" textLength="127.70" lengthAdjust="spacingAndGlyphs" transform="rotate(-90 213.00 290.60)">Relative CD38 mRNA level (/control)</text>
<polyline points="244.70,245.40 244.70,242.30 277.10,242.30 277.10,245.40" stroke="#222" stroke-width="1.1" fill="none"/>
<polyline points="260.90,242.30 260.90,225.30 354.40,225.30 354.40,293.90" stroke="#222" stroke-width="1.1" fill="none"/>
<polyline points="292.30,298.40 292.30,293.90 418.20,293.90 418.20,298.40" stroke="#222" stroke-width="1.1" fill="none"/>
<path d="M303.50,219.55L303.50,222.25M302.33,220.22L304.67,221.58M302.33,221.58L304.67,220.22" stroke="#1a1a1a" stroke-width="1.0" fill="none"/>
<path d="M307.20,219.55L307.20,222.25M306.03,220.22L308.37,221.58M306.03,221.58L308.37,220.22" stroke="#1a1a1a" stroke-width="1.0" fill="none"/>
<path d="M310.90,219.55L310.90,222.25M309.73,220.22L312.07,221.58M309.73,221.58L312.07,220.22" stroke="#1a1a1a" stroke-width="1.0" fill="none"/>
<rect x="408.80" y="226.60" width="4.40" height="4.40" fill="#c2c7dd"/>
<text x="416.40" y="230.80" font-size="8.3" textLength="12.60" lengthAdjust="spacingAndGlyphs">12h</text>
<rect x="408.80" y="238.40" width="4.40" height="4.40" fill="#8e98c0"/>
<text x="416.40" y="242.60" font-size="8.3" textLength="12.60" lengthAdjust="spacingAndGlyphs">24h</text>
<rect x="408.80" y="250.20" width="4.40" height="4.40" fill="#5e6ea0"/>
<text x="416.40" y="254.40" font-size="8.3" textLength="12.60" lengthAdjust="spacingAndGlyphs">48h</text>
<rect x="408.80" y="262.00" width="4.40" height="4.40" fill="#2d4779"/>
<text x="416.40" y="266.20" font-size="8.3" textLength="12.60" lengthAdjust="spacingAndGlyphs">72h</text>
<line x1="51.40" y1="430.50" x2="51.40" y2="520.90" stroke="#222" stroke-width="1.2"/>
<line x1="48.60" y1="520.30" x2="151.00" y2="520.30" stroke="#222" stroke-width="1.2"/>
<line x1="101.20" y1="520.30" x2="101.20" y2="523.50" stroke="#222" stroke-width="1"/>
<line x1="48.60" y1="438.20" x2="51.40" y2="438.20" stroke="#222" stroke-width="1"/>
<text x="45.30" y="440.80" font-size="8.5" text-anchor="end" textLength="11.22" lengthAdjust="spacingAndGlyphs">1.0</text>
<line x1="48.60" y1="479.25" x2="51.40" y2="479.25" stroke="#222" stroke-width="1"/>
<text x="45.30" y="481.85" font-size="8.5" text-anchor="end" textLength="11.22" lengthAdjust="spacingAndGlyphs">0.5</text>
<line x1="48.60" y1="520.30" x2="51.40" y2="520.30" stroke="#222" stroke-width="1"/>
<text x="45.30" y="522.90" font-size="8.5" text-anchor="end" textLength="4.49" lengthAdjust="spacingAndGlyphs">0</text>
<line x1="59.60" y1="438.60" x2="93.30" y2="438.60" stroke="#222" stroke-width="1.3"/>
<circle cx="69.70" cy="438.6" r="1.35" fill="#b3112c"/>
<circle cx="73.00" cy="438.6" r="1.35" fill="#b3112c"/>
<circle cx="76.30" cy="438.6" r="1.35" fill="#b3112c"/>
<circle cx="79.60" cy="438.6" r="1.35" fill="#b3112c"/>
<circle cx="82.90" cy="438.6" r="1.35" fill="#b3112c"/>
<line x1="109.00" y1="457.20" x2="142.80" y2="457.20" stroke="#222" stroke-width="1.3"/>
<line x1="125.40" y1="454.60" x2="125.40" y2="460.40" stroke="#222" stroke-width="1"/>
<line x1="117.20" y1="454.60" x2="134.20" y2="454.60" stroke="#555" stroke-width="1"/>
<line x1="117.20" y1="460.40" x2="134.20" y2="460.40" stroke="#222" stroke-width="1"/>
<circle cx="122.50" cy="452.30" r="1.35" fill="#b3112c"/>
<circle cx="125.80" cy="453.60" r="1.35" fill="#b3112c"/>
<circle cx="129.10" cy="452.20" r="1.35" fill="#b3112c"/>
<circle cx="127.50" cy="462.90" r="1.35" fill="#b3112c"/>
<circle cx="124.40" cy="465.90" r="1.35" fill="#b3112c"/>
<polyline points="76.00,430.30 76.00,426.80 125.70,426.80 125.70,430.30" stroke="#4a4a4a" stroke-width="1.3" fill="none"/>
<path d="M97.35,421.45L97.35,424.15M96.18,422.12L98.52,423.48M96.18,423.48L98.52,422.12" stroke="#3a3a3a" stroke-width="1.0" fill="none"/>
<path d="M100.90,421.45L100.90,424.15M99.73,422.12L102.07,423.48M99.73,423.48L102.07,422.12" stroke="#3a3a3a" stroke-width="1.0" fill="none"/>
<path d="M104.45,421.45L104.45,424.15M103.28,422.12L105.62,423.48M103.28,423.48L105.62,422.12" stroke="#3a3a3a" stroke-width="1.0" fill="none"/>
<text x="76.50" y="534.60" font-size="8.2" text-anchor="middle" textLength="20.28" lengthAdjust="spacingAndGlyphs">IL-6 -</text>
<text x="125.00" y="534.60" font-size="8.2" text-anchor="middle" textLength="22.47" lengthAdjust="spacingAndGlyphs">IL-6 +</text>
<text x="15.60" y="474.30" font-size="9.6" text-anchor="middle" textLength="91.00" lengthAdjust="spacingAndGlyphs" transform="rotate(-90 15.60 474.30)">Relative CD38 mRNA level</text>
<text x="27.80" y="474.00" font-size="9.6" text-anchor="middle" textLength="32.60" lengthAdjust="spacingAndGlyphs" transform="rotate(-90 27.80 474.00)">(/control)</text>
<line x1="207.40" y1="425.80" x2="207.40" y2="520.70" stroke="#222" stroke-width="1.2"/>
<line x1="206.80" y1="520.20" x2="321.50" y2="520.20" stroke="#222" stroke-width="1.2"/>
<line x1="204.40" y1="520.20" x2="207.40" y2="520.20" stroke="#222" stroke-width="1"/>
<text x="201.30" y="522.80" font-size="8.5" text-anchor="end" textLength="4.35" lengthAdjust="spacingAndGlyphs">0</text>
<line x1="204.40" y1="508.58" x2="207.40" y2="508.58" stroke="#222" stroke-width="1"/>
<text x="201.30" y="511.18" font-size="8.5" text-anchor="end" textLength="10.87" lengthAdjust="spacingAndGlyphs">0.5</text>
<line x1="204.40" y1="496.95" x2="207.40" y2="496.95" stroke="#222" stroke-width="1"/>
<text x="201.30" y="499.55" font-size="8.5" text-anchor="end" textLength="4.35" lengthAdjust="spacingAndGlyphs">1</text>
<line x1="204.40" y1="485.33" x2="207.40" y2="485.33" stroke="#222" stroke-width="1"/>
<text x="201.30" y="487.93" font-size="8.5" text-anchor="end" textLength="10.87" lengthAdjust="spacingAndGlyphs">1.5</text>
<line x1="204.40" y1="473.70" x2="207.40" y2="473.70" stroke="#222" stroke-width="1"/>
<text x="201.30" y="476.30" font-size="8.5" text-anchor="end" textLength="4.35" lengthAdjust="spacingAndGlyphs">2</text>
<line x1="204.40" y1="462.08" x2="207.40" y2="462.08" stroke="#222" stroke-width="1"/>
<text x="201.30" y="464.68" font-size="8.5" text-anchor="end" textLength="10.87" lengthAdjust="spacingAndGlyphs">2.5</text>
<line x1="204.40" y1="450.45" x2="207.40" y2="450.45" stroke="#222" stroke-width="1"/>
<text x="201.30" y="453.05" font-size="8.5" text-anchor="end" textLength="4.35" lengthAdjust="spacingAndGlyphs">3</text>
<line x1="204.40" y1="438.83" x2="207.40" y2="438.83" stroke="#222" stroke-width="1"/>
<text x="201.30" y="441.43" font-size="8.5" text-anchor="end" textLength="10.87" lengthAdjust="spacingAndGlyphs">3.5</text>
<line x1="204.40" y1="427.20" x2="207.40" y2="427.20" stroke="#222" stroke-width="1"/>
<text x="201.30" y="429.80" font-size="8.5" text-anchor="end" textLength="4.35" lengthAdjust="spacingAndGlyphs">4</text>
<line x1="263.05" y1="520.20" x2="263.05" y2="523.20" stroke="#222" stroke-width="1"/>
<line x1="318.70" y1="520.20" x2="318.70" y2="523.20" stroke="#222" stroke-width="1"/>
<line x1="220.28" y1="494.63" x2="220.28" y2="496.95" stroke="#4c5165" stroke-width="1"/>
<line x1="218.48" y1="494.63" x2="222.08" y2="494.63" stroke="#4c5165" stroke-width="1"/>
<rect x="216.48" y="496.95" width="7.60" height="23.25" fill="#4c5165" stroke="#404558" stroke-width="0.5"/>
<line x1="230.38" y1="480.68" x2="230.38" y2="484.16" stroke="#2d4779" stroke-width="1"/>
<line x1="228.58" y1="480.68" x2="232.18" y2="480.68" stroke="#2d4779" stroke-width="1"/>
<rect x="226.58" y="484.16" width="7.60" height="36.04" fill="#2d4779" stroke="#253d6c" stroke-width="0.5"/>
<line x1="240.48" y1="504.74" x2="240.48" y2="505.20" stroke="#5e6ea0" stroke-width="1"/>
<line x1="238.68" y1="504.74" x2="242.28" y2="504.74" stroke="#5e6ea0" stroke-width="1"/>
<rect x="236.68" y="505.20" width="7.60" height="15.00" fill="#5e6ea0" stroke="#536293" stroke-width="0.5"/>
<line x1="250.58" y1="481.72" x2="250.58" y2="482.30" stroke="#8e98c0" stroke-width="1"/>
<line x1="248.78" y1="481.72" x2="252.38" y2="481.72" stroke="#8e98c0" stroke-width="1"/>
<rect x="246.78" y="482.30" width="7.60" height="37.90" fill="#8e98c0" stroke="#808ab3" stroke-width="0.5"/>
<text x="235.23" y="534.60" font-size="8.2" text-anchor="middle" textLength="12.08" lengthAdjust="spacingAndGlyphs">6 h</text>
<line x1="275.93" y1="496.72" x2="275.93" y2="497.18" stroke="#4c5165" stroke-width="1"/>
<line x1="274.12" y1="496.72" x2="277.73" y2="496.72" stroke="#4c5165" stroke-width="1"/>
<rect x="272.12" y="497.18" width="7.60" height="23.02" fill="#4c5165" stroke="#404558" stroke-width="0.5"/>
<line x1="286.03" y1="450.45" x2="286.03" y2="456.73" stroke="#2d4779" stroke-width="1"/>
<line x1="284.23" y1="450.45" x2="287.83" y2="450.45" stroke="#2d4779" stroke-width="1"/>
<rect x="282.23" y="456.73" width="7.60" height="63.47" fill="#2d4779" stroke="#253d6c" stroke-width="0.5"/>
<line x1="296.12" y1="507.18" x2="296.12" y2="507.65" stroke="#5e6ea0" stroke-width="1"/>
<line x1="294.32" y1="507.18" x2="297.93" y2="507.18" stroke="#5e6ea0" stroke-width="1"/>
<rect x="292.32" y="507.65" width="7.60" height="12.56" fill="#5e6ea0" stroke="#536293" stroke-width="0.5"/>
<line x1="306.23" y1="438.36" x2="306.23" y2="444.17" stroke="#8e98c0" stroke-width="1"/>
<line x1="304.43" y1="438.36" x2="308.03" y2="438.36" stroke="#8e98c0" stroke-width="1"/>
<rect x="302.43" y="444.17" width="7.60" height="76.03" fill="#8e98c0" stroke="#808ab3" stroke-width="0.5"/>
<text x="290.88" y="534.60" font-size="8.2" text-anchor="middle" textLength="16.92" lengthAdjust="spacingAndGlyphs">12 h</text>
<polyline points="220.40,473.90 220.40,471.00 230.40,471.00 230.40,473.90" stroke="#222" stroke-width="1.1" fill="none"/>
<path d="M223.60,465.35L223.60,468.05M222.43,466.02L224.77,467.38M222.43,467.38L224.77,466.02" stroke="#1a1a1a" stroke-width="1.0" fill="none"/>
<path d="M227.20,465.35L227.20,468.05M226.03,466.02L228.37,467.38M226.03,467.38L228.37,466.02" stroke="#1a1a1a" stroke-width="1.0" fill="none"/>
<polyline points="220.40,463.40 220.40,460.50 239.80,460.50 239.80,463.40" stroke="#222" stroke-width="1.1" fill="none"/>
<path d="M230.10,454.85L230.10,457.55M228.93,455.52L231.27,456.88M228.93,456.88L231.27,455.52" stroke="#1a1a1a" stroke-width="1.0" fill="none"/>
<polyline points="239.80,455.70 239.80,452.80 250.40,452.80 250.40,455.70" stroke="#222" stroke-width="1.1" fill="none"/>
<path d="M241.50,447.15L241.50,449.85M240.33,447.82L242.67,449.18M240.33,449.18L242.67,447.82" stroke="#1a1a1a" stroke-width="1.0" fill="none"/>
<path d="M245.10,447.15L245.10,449.85M243.93,447.82L246.27,449.18M243.93,449.18L246.27,447.82" stroke="#1a1a1a" stroke-width="1.0" fill="none"/>
<path d="M248.70,447.15L248.70,449.85M247.53,447.82L249.87,449.18M247.53,449.18L249.87,447.82" stroke="#1a1a1a" stroke-width="1.0" fill="none"/>
<polyline points="275.60,449.30 275.60,446.40 285.80,446.40 285.80,449.30" stroke="#222" stroke-width="1.1" fill="none"/>
<path d="M278.90,440.75L278.90,443.45M277.73,441.42L280.07,442.77M277.73,442.77L280.07,441.42" stroke="#1a1a1a" stroke-width="1.0" fill="none"/>
<path d="M282.50,440.75L282.50,443.45M281.33,441.42L283.67,442.77M281.33,442.77L283.67,441.42" stroke="#1a1a1a" stroke-width="1.0" fill="none"/>
<polyline points="275.60,439.30 275.60,436.40 295.20,436.40 295.20,439.30" stroke="#222" stroke-width="1.1" fill="none"/>
<path d="M281.80,430.75L281.80,433.45M280.63,431.42L282.97,432.77M280.63,432.77L282.97,431.42" stroke="#1a1a1a" stroke-width="1.0" fill="none"/>
<path d="M285.40,430.75L285.40,433.45M284.23,431.42L286.57,432.77M284.23,432.77L286.57,431.42" stroke="#1a1a1a" stroke-width="1.0" fill="none"/>
<path d="M289.00,430.75L289.00,433.45M287.83,431.42L290.17,432.77M287.83,432.77L290.17,431.42" stroke="#1a1a1a" stroke-width="1.0" fill="none"/>
<polyline points="295.20,432.20 295.20,429.30 305.60,429.30 305.60,432.20" stroke="#222" stroke-width="1.1" fill="none"/>
<path d="M298.60,423.65L298.60,426.35M297.43,424.32L299.77,425.68M297.43,425.68L299.77,424.32" stroke="#1a1a1a" stroke-width="1.0" fill="none"/>
<path d="M302.20,423.65L302.20,426.35M301.03,424.32L303.37,425.68M301.03,425.68L303.37,424.32" stroke="#1a1a1a" stroke-width="1.0" fill="none"/>
<text x="265.00" y="418.50" font-size="9.8" text-anchor="middle">RPMI 8226</text>
<text x="171.60" y="473.90" font-size="9.6" text-anchor="middle" textLength="92.30" lengthAdjust="spacingAndGlyphs" transform="rotate(-90 171.60 473.90)">Relative CD38 mRNA level</text>
<text x="184.40" y="473.60" font-size="9.6" text-anchor="middle" textLength="32.40" lengthAdjust="spacingAndGlyphs" transform="rotate(-90 184.40 473.60)">(/control)</text>
<rect x="220.30" y="544.00" width="4.00" height="4.00" fill="#4c5165"/>
<text x="227.30" y="548.90" font-size="8.2" textLength="26.00" lengthAdjust="spacingAndGlyphs">Control</text>
<rect x="264.00" y="544.00" width="4.00" height="4.00" fill="#2d4779"/>
<text x="271.00" y="548.90" font-size="8.2" textLength="16.30" lengthAdjust="spacingAndGlyphs">CHX</text>
<rect x="220.30" y="556.80" width="4.00" height="4.00" fill="#5e6ea0"/>
<text x="227.30" y="561.70" font-size="8.2" textLength="12.50" lengthAdjust="spacingAndGlyphs">IL-6</text>
<rect x="264.00" y="556.80" width="4.00" height="4.00" fill="#8e98c0"/>
<text x="271.00" y="561.70" font-size="8.2" textLength="38.80" lengthAdjust="spacingAndGlyphs">CHX + IL-6</text>
<line x1="389.40" y1="425.10" x2="389.40" y2="520.70" stroke="#222" stroke-width="1.2"/>
<line x1="388.80" y1="520.20" x2="502.30" y2="520.20" stroke="#222" stroke-width="1.2"/>
<line x1="386.40" y1="520.20" x2="389.40" y2="520.20" stroke="#222" stroke-width="1"/>
<text x="383.30" y="522.80" font-size="8.5" text-anchor="end" textLength="4.35" lengthAdjust="spacingAndGlyphs">0</text>
<line x1="386.40" y1="496.78" x2="389.40" y2="496.78" stroke="#222" stroke-width="1"/>
<text x="383.30" y="499.38" font-size="8.5" text-anchor="end" textLength="10.87" lengthAdjust="spacingAndGlyphs">0.5</text>
<line x1="386.40" y1="473.35" x2="389.40" y2="473.35" stroke="#222" stroke-width="1"/>
<text x="383.30" y="475.95" font-size="8.5" text-anchor="end" textLength="4.35" lengthAdjust="spacingAndGlyphs">1</text>
<line x1="386.40" y1="449.93" x2="389.40" y2="449.93" stroke="#222" stroke-width="1"/>
<text x="383.30" y="452.53" font-size="8.5" text-anchor="end" textLength="10.87" lengthAdjust="spacingAndGlyphs">1.5</text>
<line x1="386.40" y1="426.50" x2="389.40" y2="426.50" stroke="#222" stroke-width="1"/>
<text x="383.30" y="429.10" font-size="8.5" text-anchor="end" textLength="4.35" lengthAdjust="spacingAndGlyphs">2</text>
<line x1="444.45" y1="520.20" x2="444.45" y2="523.20" stroke="#222" stroke-width="1"/>
<line x1="499.50" y1="520.20" x2="499.50" y2="523.20" stroke="#222" stroke-width="1"/>
<line x1="401.97" y1="471.48" x2="401.97" y2="473.35" stroke="#4c5165" stroke-width="1"/>
<line x1="400.17" y1="471.48" x2="403.77" y2="471.48" stroke="#4c5165" stroke-width="1"/>
<rect x="398.17" y="473.35" width="7.60" height="46.85" fill="#4c5165" stroke="#404558" stroke-width="0.5"/>
<line x1="412.07" y1="471.01" x2="412.07" y2="473.82" stroke="#2d4779" stroke-width="1"/>
<line x1="410.27" y1="471.01" x2="413.88" y2="471.01" stroke="#2d4779" stroke-width="1"/>
<rect x="408.27" y="473.82" width="7.60" height="46.38" fill="#2d4779" stroke="#253d6c" stroke-width="0.5"/>
<line x1="422.17" y1="477.57" x2="422.17" y2="478.04" stroke="#5e6ea0" stroke-width="1"/>
<line x1="420.37" y1="477.57" x2="423.97" y2="477.57" stroke="#5e6ea0" stroke-width="1"/>
<rect x="418.37" y="478.04" width="7.60" height="42.17" fill="#5e6ea0" stroke="#536293" stroke-width="0.5"/>
<line x1="432.27" y1="446.18" x2="432.27" y2="448.99" stroke="#8e98c0" stroke-width="1"/>
<line x1="430.47" y1="446.18" x2="434.07" y2="446.18" stroke="#8e98c0" stroke-width="1"/>
<rect x="428.47" y="448.99" width="7.60" height="71.21" fill="#8e98c0" stroke="#808ab3" stroke-width="0.5"/>
<text x="416.92" y="534.60" font-size="8.2" text-anchor="middle" textLength="12.08" lengthAdjust="spacingAndGlyphs">6 h</text>
<line x1="457.03" y1="472.88" x2="457.03" y2="473.35" stroke="#4c5165" stroke-width="1"/>
<line x1="455.23" y1="472.88" x2="458.83" y2="472.88" stroke="#4c5165" stroke-width="1"/>
<rect x="453.23" y="473.35" width="7.60" height="46.85" fill="#4c5165" stroke="#404558" stroke-width="0.5"/>
<line x1="467.13" y1="473.35" x2="467.13" y2="477.10" stroke="#2d4779" stroke-width="1"/>
<line x1="465.33" y1="473.35" x2="468.93" y2="473.35" stroke="#2d4779" stroke-width="1"/>
<rect x="463.33" y="477.10" width="7.60" height="43.10" fill="#2d4779" stroke="#253d6c" stroke-width="0.5"/>
<line x1="477.23" y1="495.37" x2="477.23" y2="495.84" stroke="#5e6ea0" stroke-width="1"/>
<line x1="475.43" y1="495.37" x2="479.03" y2="495.37" stroke="#5e6ea0" stroke-width="1"/>
<rect x="473.43" y="495.84" width="7.60" height="24.36" fill="#5e6ea0" stroke="#536293" stroke-width="0.5"/>
<line x1="487.33" y1="443.37" x2="487.33" y2="448.99" stroke="#8e98c0" stroke-width="1"/>
<line x1="485.53" y1="443.37" x2="489.13" y2="443.37" stroke="#8e98c0" stroke-width="1"/>
<rect x="483.53" y="448.99" width="7.60" height="71.21" fill="#8e98c0" stroke="#808ab3" stroke-width="0.5"/>
<text x="471.98" y="534.60" font-size="8.2" text-anchor="middle" textLength="16.92" lengthAdjust="spacingAndGlyphs">12 h</text>
<polyline points="401.90,466.20 401.90,463.30 412.50,463.30 412.50,466.20" stroke="#222" stroke-width="1.1" fill="none"/>
<text x="407.20" y="460.40" font-size="8.7" text-anchor="middle" textLength="10.00" lengthAdjust="spacingAndGlyphs">NS</text>
<polyline points="401.90,454.20 401.90,451.30 422.30,451.30 422.30,454.20" stroke="#222" stroke-width="1.1" fill="none"/>
<text x="412.10" y="448.70" font-size="8.7" text-anchor="middle" textLength="10.00" lengthAdjust="spacingAndGlyphs">NS</text>
<polyline points="421.70,442.50 421.70,439.60 431.50,439.60 431.50,442.50" stroke="#222" stroke-width="1.1" fill="none"/>
<path d="M424.80,433.95L424.80,436.65M423.63,434.62L425.97,435.98M423.63,435.98L425.97,434.62" stroke="#1a1a1a" stroke-width="1.0" fill="none"/>
<path d="M428.40,433.95L428.40,436.65M427.23,434.62L429.57,435.98M427.23,435.98L429.57,434.62" stroke="#1a1a1a" stroke-width="1.0" fill="none"/>
<polyline points="456.40,466.30 456.40,463.40 467.00,463.40 467.00,466.30" stroke="#222" stroke-width="1.1" fill="none"/>
<text x="461.70" y="460.40" font-size="8.7" text-anchor="middle" textLength="10.00" lengthAdjust="spacingAndGlyphs">NS</text>
<polyline points="456.40,453.70 456.40,450.80 476.60,450.80 476.60,453.70" stroke="#222" stroke-width="1.1" fill="none"/>
<path d="M462.90,445.15L462.90,447.85M461.73,445.82L464.07,447.18M461.73,447.18L464.07,445.82" stroke="#1a1a1a" stroke-width="1.0" fill="none"/>
<path d="M466.50,445.15L466.50,447.85M465.33,445.82L467.67,447.18M465.33,447.18L467.67,445.82" stroke="#1a1a1a" stroke-width="1.0" fill="none"/>
<path d="M470.10,445.15L470.10,447.85M468.93,445.82L471.27,447.18M468.93,447.18L471.27,445.82" stroke="#1a1a1a" stroke-width="1.0" fill="none"/>
<polyline points="476.20,441.20 476.20,438.30 486.80,438.30 486.80,441.20" stroke="#222" stroke-width="1.1" fill="none"/>
<path d="M479.70,432.65L479.70,435.35M478.53,433.32L480.87,434.68M478.53,434.68L480.87,433.32" stroke="#1a1a1a" stroke-width="1.0" fill="none"/>
<path d="M483.30,432.65L483.30,435.35M482.13,433.32L484.47,434.68M482.13,434.68L484.47,433.32" stroke="#1a1a1a" stroke-width="1.0" fill="none"/>
<text x="445.20" y="418.50" font-size="9.8" text-anchor="middle">MOLP-8</text>
<text x="353.60" y="473.40" font-size="9.6" text-anchor="middle" textLength="91.90" lengthAdjust="spacingAndGlyphs" transform="rotate(-90 353.60 473.40)">Relative CD38 mRNA level</text>
<text x="365.30" y="472.90" font-size="9.6" text-anchor="middle" textLength="32.20" lengthAdjust="spacingAndGlyphs" transform="rotate(-90 365.30 472.90)">(/control)</text>
<rect x="402.00" y="544.00" width="4.00" height="4.00" fill="#4c5165"/>
<text x="409.00" y="548.90" font-size="8.2" textLength="26.00" lengthAdjust="spacingAndGlyphs">Control</text>
<rect x="445.70" y="544.00" width="4.00" height="4.00" fill="#2d4779"/>
<text x="452.70" y="548.90" font-size="8.2" textLength="16.30" lengthAdjust="spacingAndGlyphs">CHX</text>
<rect x="402.00" y="556.80" width="4.00" height="4.00" fill="#5e6ea0"/>
<text x="409.00" y="561.70" font-size="8.2" textLength="12.50" lengthAdjust="spacingAndGlyphs">IL-6</text>
<rect x="445.70" y="556.80" width="4.00" height="4.00" fill="#8e98c0"/>
<text x="452.70" y="561.70" font-size="8.2" textLength="38.80" lengthAdjust="spacingAndGlyphs">CHX + IL-6</text>
<rect x="0.7" y="0.7" width="518.6" height="569.6" fill="none" stroke="#000" stroke-width="1.4"/>
</svg>
</body></html>
